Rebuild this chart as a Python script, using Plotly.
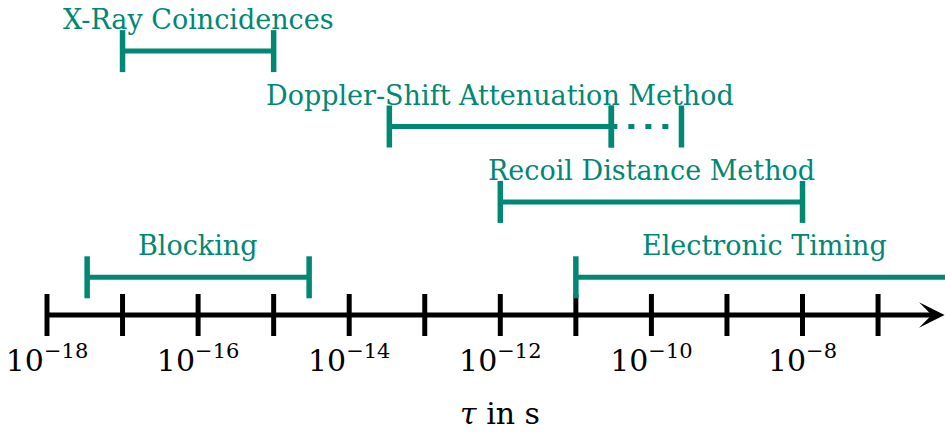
import math
import plotly.graph_objects as go

# Lifetime ranges (seconds) covered by each measurement technique
methods = ["X-Ray Coincidences", "Doppler-Shift Attenuation Method",
           "Recoil Distance Method", "Blocking", "Electronic Timing"]
range_start = [1e-17, 3.4e-14, 1e-12, 3.4e-18, 1e-11]
range_end = [1e-15, 2.95e-11, 1e-8, 2.95e-15, 1e-6]
# Doppler-shift method: tentative extension of the range (dotted)
dsam_extension_end = 2.5e-10

# Decade ticks along the time axis
decades = [1e-18, 1e-17, 1e-16, 1e-15, 1e-14, 1e-13, 1e-12,
           1e-11, 1e-10, 1e-9, 1e-8, 1e-7]
label_decades = [1e-18, 1e-16, 1e-14, 1e-12, 1e-10, 1e-8]
label_text = ["10<sup>−18</sup>", "10<sup>−16</sup>", "10<sup>−14</sup>",
              "10<sup>−12</sup>", "10<sup>−10</sup>", "10<sup>−8</sup>"]

TEAL = "rgb(0,136,117)"
FONT = "DejaVu Serif"
ROW = {"X-Ray Coincidences": 3.5, "Doppler-Shift Attenuation Method": 2.5,
       "Recoil Distance Method": 1.5, "Blocking": 0.5, "Electronic Timing": 0.5}

fig = go.Figure()

# tick marks crossing the time axis
fig.add_trace(go.Scatter(
    x=decades, y=[0] * len(decades), mode="markers",
    marker=dict(symbol="line-ns", size=30, line=dict(width=5, color="black")),
    hoverinfo="skip", showlegend=False))

annotations = []
for name, a, b in zip(methods, range_start, range_end):
    y = ROW[name]
    fig.add_trace(go.Scatter(
        x=[a, b], y=[y, y], mode="lines+markers",
        line=dict(color=TEAL, width=5),
        marker=dict(symbol="line-ns", size=30, line=dict(width=5.5, color=TEAL)),
        hoverinfo="skip", showlegend=False))
    annotations.append(dict(
        x=(math.log10(a) + math.log10(b)) / 2, y=y, xref="x", yref="y",
        text=name, showarrow=False, yanchor="bottom", yshift=14,
        font=dict(family=FONT, size=27, color=TEAL)))
    if name.startswith("Doppler"):
        fig.add_trace(go.Scatter(
            x=[b, dsam_extension_end], y=[y, y], mode="lines+markers",
            line=dict(color=TEAL, width=5, dash="6px,11px"),
            marker=dict(symbol="line-ns", size=30, line=dict(width=5.5, color=TEAL)),
            hoverinfo="skip", showlegend=False))

# time axis drawn as an arrow
annotations.append(dict(
    x=-6.12, y=0, ax=-18, ay=0, xref="x", yref="y", axref="x", ayref="y",
    text="", showarrow=True, arrowhead=3, arrowsize=0.85, arrowwidth=5,
    arrowcolor="black", standoff=0))

# axis title
annotations.append(dict(
    x=-12, y=-0.2176, xref="x", yref="paper", text="<i>τ</i> in s",
    showarrow=False, yanchor="middle",
    font=dict(family=FONT, size=30, color="black")))

fig.update_layout(
    width=945, height=434,
    margin=dict(l=0, r=0, t=0, b=94),
    paper_bgcolor="white", plot_bgcolor="white",
    annotations=annotations,
    xaxis=dict(type="log", range=[-18.622, -6.114], showgrid=False,
               zeroline=False, showline=False, ticks="",
               tickvals=label_decades, ticktext=label_text,
               tickfont=dict(family=FONT, size=30, color="black")),
    yaxis=dict(range=[-0.3316, 4.178], visible=False, showgrid=False,
               zeroline=False),
)

fig.write_html("out.html")
